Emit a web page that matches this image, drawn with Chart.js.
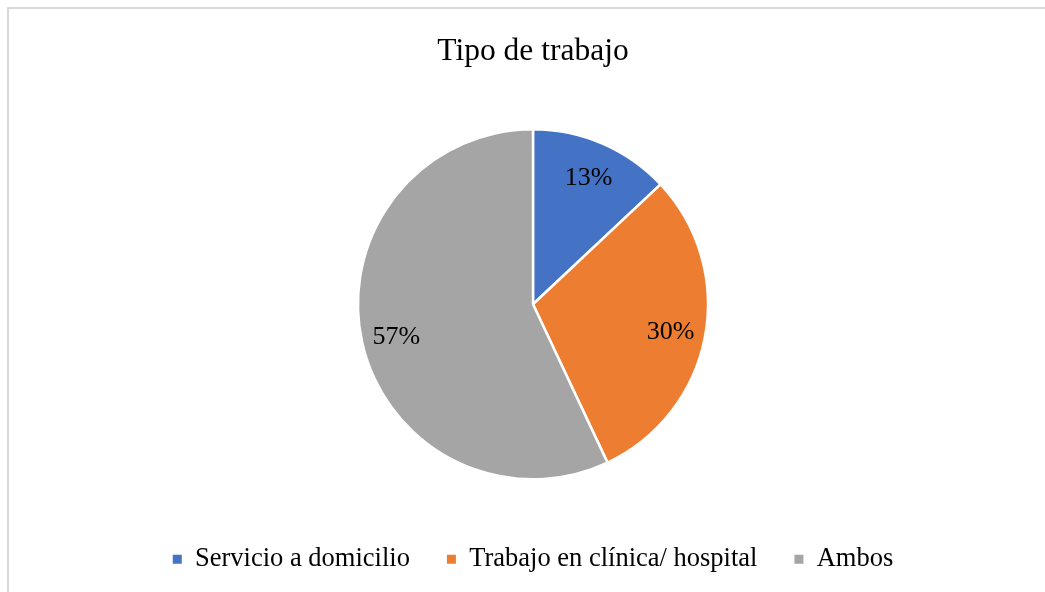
<!DOCTYPE html>
<html>
<head>
<meta charset="utf-8">
<script src="https://cdn.jsdelivr.net/npm/chart.js@4/dist/chart.umd.min.js"></script>
<style>
  html, body { margin: 0; padding: 0; background: #ffffff; }
  #wrap { position: relative; width: 1045px; height: 592px; overflow: hidden; background: #ffffff; }
  #frame { position: absolute; left: 7px; top: 7px; width: 1100px; height: 700px;
           border-top: 2px solid #d9d9d9; border-left: 2px solid #d9d9d9; box-sizing: border-box; }
  #c { position: absolute; left: 0; top: 0; }
</style>
</head>
<body>
<div id="wrap">
  <div id="frame"></div>
  <canvas id="c" width="1045" height="592"></canvas>
</div>
<script>
const chartTitle = "Tipo de trabajo";
const categories = ["Servicio a domicilio", "Trabajo en clínica/ hospital", "Ambos"];
const values = [13, 30, 57];
const sliceColors = ["#4472C4", "#ED7D31", "#A5A5A5"];
const SERIF = '"Liberation Serif", "Times New Roman", Times, serif';

const pieLabels = {
  id: 'pieLabels',
  afterDatasetsDraw(chart) {
    const ctx = chart.ctx;
    const meta = chart.getDatasetMeta(0);
    const data = chart.data.datasets[0].data;
    const total = data.reduce((a, b) => a + b, 0);
    ctx.save();
    ctx.font = '26px ' + SERIF;
    ctx.fillStyle = '#000000';
    ctx.textAlign = 'center';
    ctx.textBaseline = 'middle';
    meta.data.forEach((arc, i) => {
      const p = arc.getProps(['x', 'y', 'startAngle', 'endAngle', 'outerRadius'], true);
      const mid = (p.startAngle + p.endAngle) / 2;
      const r = p.outerRadius * 0.8;
      const pct = Math.round(data[i] / total * 100) + '%';
      ctx.fillText(pct, p.x + Math.cos(mid) * r, p.y + Math.sin(mid) * r + 2);
    });
    ctx.restore();
  }
};

new Chart(document.getElementById('c'), {
  type: 'pie',
  data: {
    labels: categories,
    datasets: [{
      data: values,
      backgroundColor: sliceColors,
      borderColor: '#ffffff',
      borderWidth: 2.5,
      radius: 175
    }]
  },
  options: {
    responsive: false,
    animation: false,
    events: [],
    layout: { padding: { top: 0, bottom: 9.5, left: 21, right: 0 } },
    plugins: {
      tooltip: { enabled: false },
      title: {
        display: true,
        text: chartTitle,
        color: '#000000',
        font: { family: SERIF, size: 31.5, weight: 'normal' },
        padding: { top: 33, bottom: 28.7 }
      },
      legend: {
        display: true,
        position: 'bottom',
        labels: {
          color: '#000000',
          font: { family: SERIF, size: 26.5 },
          boxWidth: 9,
          boxHeight: 9,
          padding: 37,
          generateLabels(chart) {
            const items = Chart.overrides.pie.plugins.legend.labels.generateLabels(chart);
            items.forEach(it => { it.lineWidth = 0; it.strokeStyle = 'rgba(0,0,0,0)'; });
            return items;
          }
        }
      }
    }
  },
  plugins: [pieLabels]
});
</script>
</body>
</html>
